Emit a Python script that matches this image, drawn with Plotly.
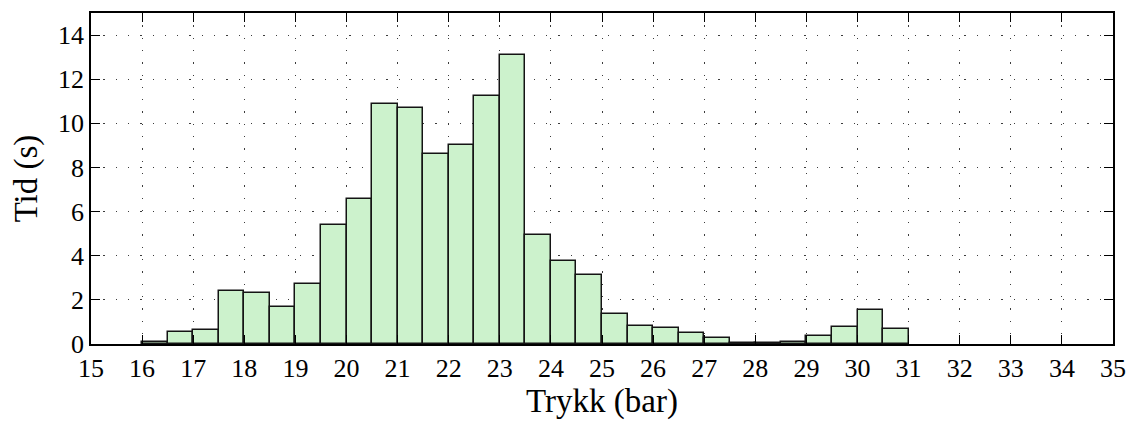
import plotly.graph_objects as go

# Histogram bins (bin centres, bar width 0.5 bar) and time spent in each bin
pressure_bins = [16.25, 16.75, 17.25, 17.75, 18.25, 18.75, 19.25, 19.75,
                 20.25, 20.75, 21.25, 21.75, 22.25, 22.75, 23.25, 23.75,
                 24.25, 24.75, 25.25, 25.75, 26.25, 26.75, 27.25, 27.75,
                 28.25, 28.75, 29.25, 29.75, 30.25, 30.75]
time_s = [0.1, 0.55, 0.62, 2.42, 2.3, 1.68, 2.72, 5.39,
          6.55, 10.89, 10.69, 8.63, 9.0, 11.25, 13.1, 4.94,
          3.74, 3.12, 1.34, 0.81, 0.72, 0.51, 0.26, 0.06,
          0.05, 0.1, 0.36, 0.77, 1.55, 0.66]
bin_width = 0.5

x_ticks = list(range(15, 36))
y_ticks = list(range(0, 15, 2))

font_family = "'Liberation Serif', 'Times New Roman', 'DejaVu Serif', serif"

fig = go.Figure()
fig.add_trace(go.Bar(
    x=pressure_bins,
    y=time_s,
    width=[bin_width] * len(pressure_bins),
    marker=dict(color="rgb(204,242,204)",
                line=dict(color="rgb(20,20,20)", width=1.5)),
    showlegend=False,
))

axis_common = dict(
    showline=True, linecolor="black", linewidth=1.5, mirror="ticks",
    ticks="inside", ticklen=9, tickwidth=1.3, tickcolor="black",
    showgrid=True, gridcolor="rgb(60,60,60)", gridwidth=1,
    griddash="1.3px,11px", zeroline=False,
    tickfont=dict(family=font_family, size=26, color="black"),
)

fig.update_xaxes(
    range=[15, 35], tickmode="array", tickvals=x_ticks,
    ticktext=[str(v) for v in x_ticks],
    title=dict(text="Trykk (bar)", font=dict(family=font_family, size=33, color="black"),
               standoff=6),
    **axis_common,
)
fig.update_yaxes(
    range=[0, 15], tickmode="array", tickvals=y_ticks,
    ticktext=[str(v) for v in y_ticks],
    title=dict(text="Tid (s)", font=dict(family=font_family, size=33, color="black"),
               standoff=10),
    **axis_common,
)

fig.update_layout(
    width=1137, height=423,
    margin=dict(l=91, r=21, t=11, b=79),
    paper_bgcolor="white", plot_bgcolor="white",
    bargap=0,
)

fig.write_html("out.html")
